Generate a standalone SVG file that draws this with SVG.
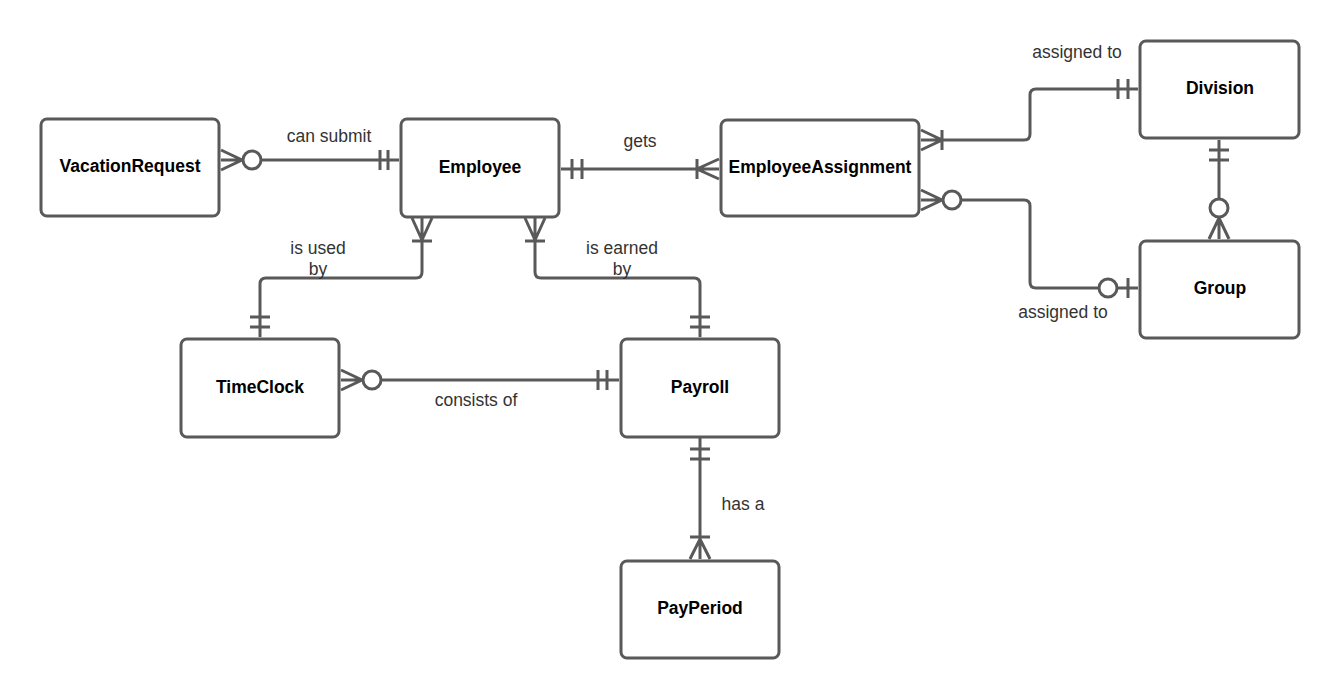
<svg xmlns="http://www.w3.org/2000/svg" width="1340" height="699" viewBox="0 0 1340 699">
<style>
.box{fill:#fff;stroke:#595959;stroke-width:3}
.nl{font-family:"Liberation Sans",Arial,sans-serif;font-size:17.5px;font-weight:bold;fill:#000;text-anchor:middle}
.el{font-family:"Liberation Sans",Arial,sans-serif;font-size:17.5px;fill:#333;text-anchor:middle}
.ln{fill:none;stroke:#595959;stroke-width:3}
.ci{fill:#fff;stroke:#595959;stroke-width:3}
</style>
<rect width="1340" height="699" fill="#fff"/>
<g id="connectors">
  <!-- VacationRequest - Employee -->
  <path class="ln" d="M221,160 H399 M221,150 L242,160 L221,170 M380,150 V170 M388,150 V170"/>
  <circle class="ci" cx="252" cy="160" r="9"/>
  <text class="el" x="329" y="142">can submit</text>
  <!-- Employee - EmployeeAssignment -->
  <path class="ln" d="M561,169 H719 M572,159 V179 M582,159 V179 M719,159 L697,169 L719,179 M697,159 V179"/>
  <text class="el" x="640" y="147">gets</text>
  <!-- EA - Division -->
  <path class="ln" d="M921,140 H1024 Q1030,140 1030,134 V95 Q1030,89 1036,89 H1138 M921,130 L942,140 L921,150 M942,130 V150 M1118,79 V99 M1128,79 V99"/>
  <text class="el" x="1077" y="58">assigned to</text>
  <!-- EA - Group -->
  <path class="ln" d="M921,200 H1024 Q1030,200 1030,206 V282 Q1030,288 1036,288 H1138 M921,190 L942,200 L921,210 M1128,278 V298"/>
  <circle class="ci" cx="952" cy="200" r="9"/>
  <circle class="ci" cx="1108" cy="288" r="9"/>
  <text class="el" x="1063" y="318">assigned to</text>
  <!-- Division - Group -->
  <path class="ln" d="M1219,140 V239 M1209,150 H1229 M1209,160 H1229 M1209,239 L1219,218 L1229,239"/>
  <circle class="ci" cx="1219" cy="208" r="9"/>
  <!-- Employee - TimeClock -->
  <path class="ln" d="M422,218 V272 Q422,278 416,278 H266 Q260,278 260,284 V337 M412,218 L422,240 L432,218 M412,241 H432 M250,317 H270 M250,327 H270"/>
  <text class="el" x="318" y="254">is used</text>
  <text class="el" x="318" y="275">by</text>
  <!-- Employee - Payroll -->
  <path class="ln" d="M535,218 V272 Q535,278 541,278 H694 Q700,278 700,284 V337 M525,218 L535,240 L545,218 M525,241 H545 M690,317 H710 M690,327 H710"/>
  <text class="el" x="622" y="254">is earned</text>
  <text class="el" x="622" y="275">by</text>
  <!-- TimeClock - Payroll -->
  <path class="ln" d="M341,380 H619 M341,370 L362,380 L341,390 M598,370 V390 M607,370 V390"/>
  <circle class="ci" cx="372" cy="380" r="9"/>
  <text class="el" x="476" y="406">consists of</text>
  <!-- Payroll - PayPeriod -->
  <path class="ln" d="M700,438 V559 M690,449 H710 M690,459 H710 M690,537 H710 M690,559 L700,539 L710,559"/>
  <text class="el" x="743" y="510">has a</text>
</g>
<g id="VacationRequest"><rect class="box" x="41" y="119" width="178" height="97" rx="6"/><text class="nl" x="130" y="172">VacationRequest</text></g>
<g id="Employee"><rect class="box" x="401" y="119" width="158" height="98" rx="6"/><text class="nl" x="480" y="173">Employee</text></g>
<g id="EmployeeAssignment"><rect class="box" x="721" y="120" width="198" height="96" rx="6"/><text class="nl" x="820" y="173">EmployeeAssignment</text></g>
<g id="Division"><rect class="box" x="1140" y="41" width="159" height="97" rx="6"/><text class="nl" x="1220" y="94">Division</text></g>
<g id="Group"><rect class="box" x="1140" y="241" width="159" height="97" rx="6"/><text class="nl" x="1220" y="294">Group</text></g>
<g id="TimeClock"><rect class="box" x="181" y="339" width="158" height="98" rx="6"/><text class="nl" x="260" y="393">TimeClock</text></g>
<g id="Payroll"><rect class="box" x="621" y="339" width="158" height="98" rx="6"/><text class="nl" x="700" y="393">Payroll</text></g>
<g id="PayPeriod"><rect class="box" x="621" y="561" width="158" height="97" rx="6"/><text class="nl" x="700" y="614">PayPeriod</text></g>
</svg>
